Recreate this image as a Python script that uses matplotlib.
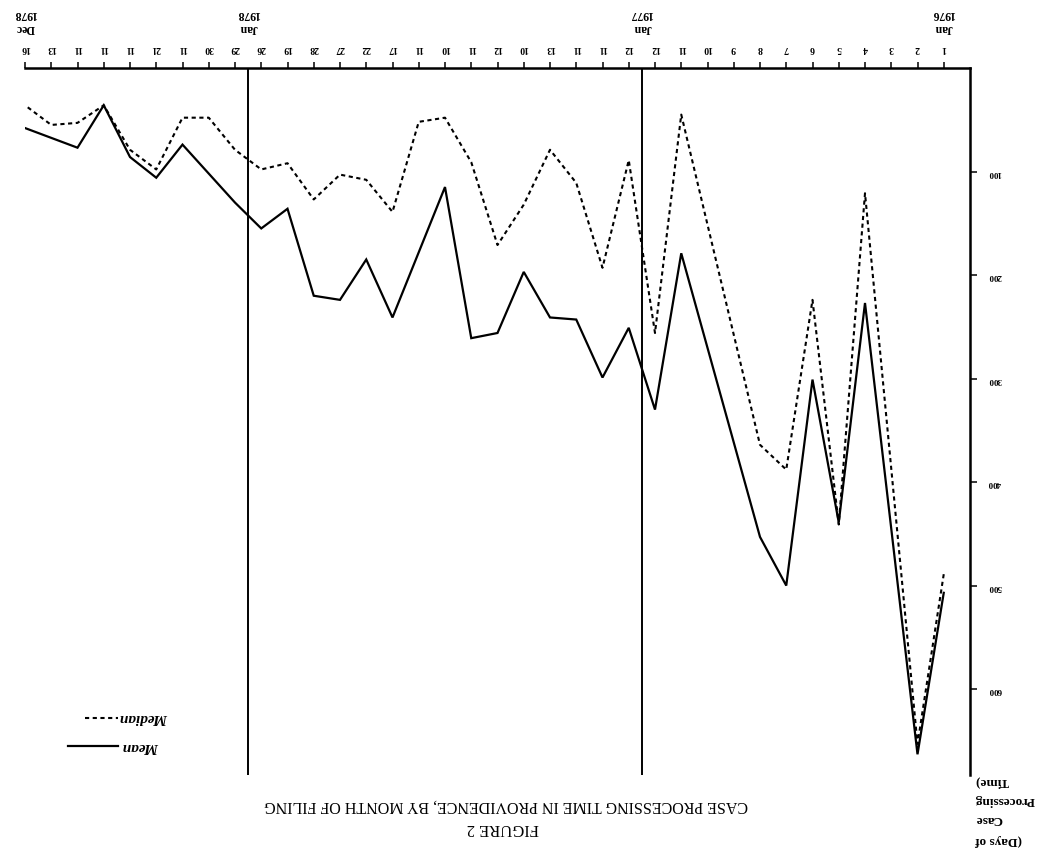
import matplotlib
matplotlib.use("Agg")
import matplotlib.pyplot as plt
from matplotlib.lines import Line2D

# ---- data (original orientation: x = month index from first month, y = days) ----
tick_pos = list(range(36))
tick_labels = ["1", "2", "3", "4", "5", "6", "7", "8", "9", "10", "11", "12",
               "12", "11", "11", "13", "10", "12", "11", "10", "11", "17", "22", "27",
               "28", "19", "26", "29", "30", "11", "21", "11", "11", "11", "13", "16"]

mean_x = [0, 1, 3, 4, 5, 6, 7, 10, 11, 12, 13, 14, 15, 16, 17, 18, 19, 21, 22, 23,
          24, 25, 26, 27, 29, 30, 31, 32, 33, 35]
mean_days = [507, 663, 227, 439, 301, 500, 453, 179, 330, 251, 299, 243, 241, 197,
             256, 261, 115, 241, 185, 224, 220, 136, 155, 130, 74, 106, 86, 36, 77, 58]

median_x = [0, 1, 3, 4, 5, 6, 7, 10, 11, 12, 13, 14, 15, 16, 17, 18, 19, 20, 21, 22,
            23, 24, 25, 26, 27, 28, 29, 30, 31, 32, 33, 34, 35]
median_days = [489, 653, 121, 441, 224, 388, 364, 45, 256, 89, 193, 111, 79, 132, 171,
               91, 48, 52, 139, 108, 103, 127, 92, 98, 79, 48, 48, 98, 79, 36, 53, 55, 36]

y_ticks = [100, 200, 300, 400, 500, 600]
year_breaks = [11.5, 26.5]
period_marks = [(0, "Jan", "1976"), (11.5, "Jan", "1977"), (26.5, "Jan", "1978"), (35, "Dec", "1978")]

title = "CASE PROCESSING TIME IN PROVIDENCE, BY MONTH OF FILING"
fig_label = "FIGURE 2"
ylabel_lines = ["(Days of", "Case", "Processing", "Time)"]

SERIF = ["Liberation Serif", "DejaVu Serif"]
plt.rcParams["font.family"] = SERIF

W, H = 1044, 852
fig = plt.figure(figsize=(W / 100, H / 100), dpi=100)
# axes box in pixels: x 25..970, y 68..775 (from top)
ax = fig.add_axes([25 / W, 1 - 775 / H, 945 / W, 707 / H])

# chart is shown rotated by 180 degrees
ax.plot(mean_x, mean_days, color="black", lw=1.6, solid_joinstyle="miter")
ax.plot(median_x, median_days, color="black", lw=1.5, linestyle=(0, (2.0, 1.7)))
for xb in year_breaks:
    ax.axvline(xb, color="black", lw=1.4)

ax.set_xlim(35, -1)
ax.set_ylim(683, 0)

for s in ["bottom", "left"]:
    ax.spines[s].set_visible(False)
ax.spines["top"].set_linewidth(1.8)
ax.spines["right"].set_linewidth(1.8)

ax.xaxis.tick_top()
ax.set_xticks(tick_pos)
ax.set_xticklabels(tick_labels, rotation=180, fontsize=7, fontweight="bold")
ax.tick_params(axis="x", direction="out", length=4, width=1.1, pad=7)

ax.yaxis.tick_right()
ax.set_yticks(y_ticks)
ax.set_yticklabels([str(v) for v in y_ticks], rotation=180, fontsize=6.5, fontweight="bold")
ax.tick_params(axis="y", direction="out", length=5, width=1.1, pad=8)

xt = ax.get_xaxis_transform()
for xm, mon, yr in period_marks:
    ax.text(xm, 1.056, mon, transform=xt, rotation=180, ha="center", va="center",
            fontsize=8.5, fontweight="bold", clip_on=False)
    ax.text(xm, 1.077, yr, transform=xt, rotation=180, ha="center", va="center",
            fontsize=8.5, fontweight="bold", clip_on=False)

# legend (upside down)
ax.add_line(Line2D([0.0635, 0.098], [0.081, 0.081], transform=ax.transAxes,
                   color="black", lw=1.5, linestyle=(0, (2.0, 1.7))))
ax.add_line(Line2D([0.0455, 0.098], [0.041, 0.041], transform=ax.transAxes,
                   color="black", lw=1.6))
ax.text(0.101, 0.081, "Median", transform=ax.transAxes, rotation=180, ha="left",
        va="center", fontsize=11, style="italic", fontweight="bold")
ax.text(0.103, 0.041, "Mean", transform=ax.transAxes, rotation=180, ha="left",
        va="center", fontsize=11, style="italic", fontweight="bold")

# titles (upside down)
fig.text(506 / W, 1 - 805 / H, title, rotation=180, ha="center", va="center",
         fontsize=11.5)
fig.text(503 / W, 1 - 828 / H, fig_label, rotation=180, ha="center", va="center",
         fontsize=12)

ys = [840, 819, 800, 782]
for line, py in zip(ylabel_lines, ys):
    fig.text(975 / W, 1 - py / H, line, rotation=180, ha="left", va="center",
             fontsize=9.5, fontweight="bold")

fig.savefig("out.png", dpi=100)
